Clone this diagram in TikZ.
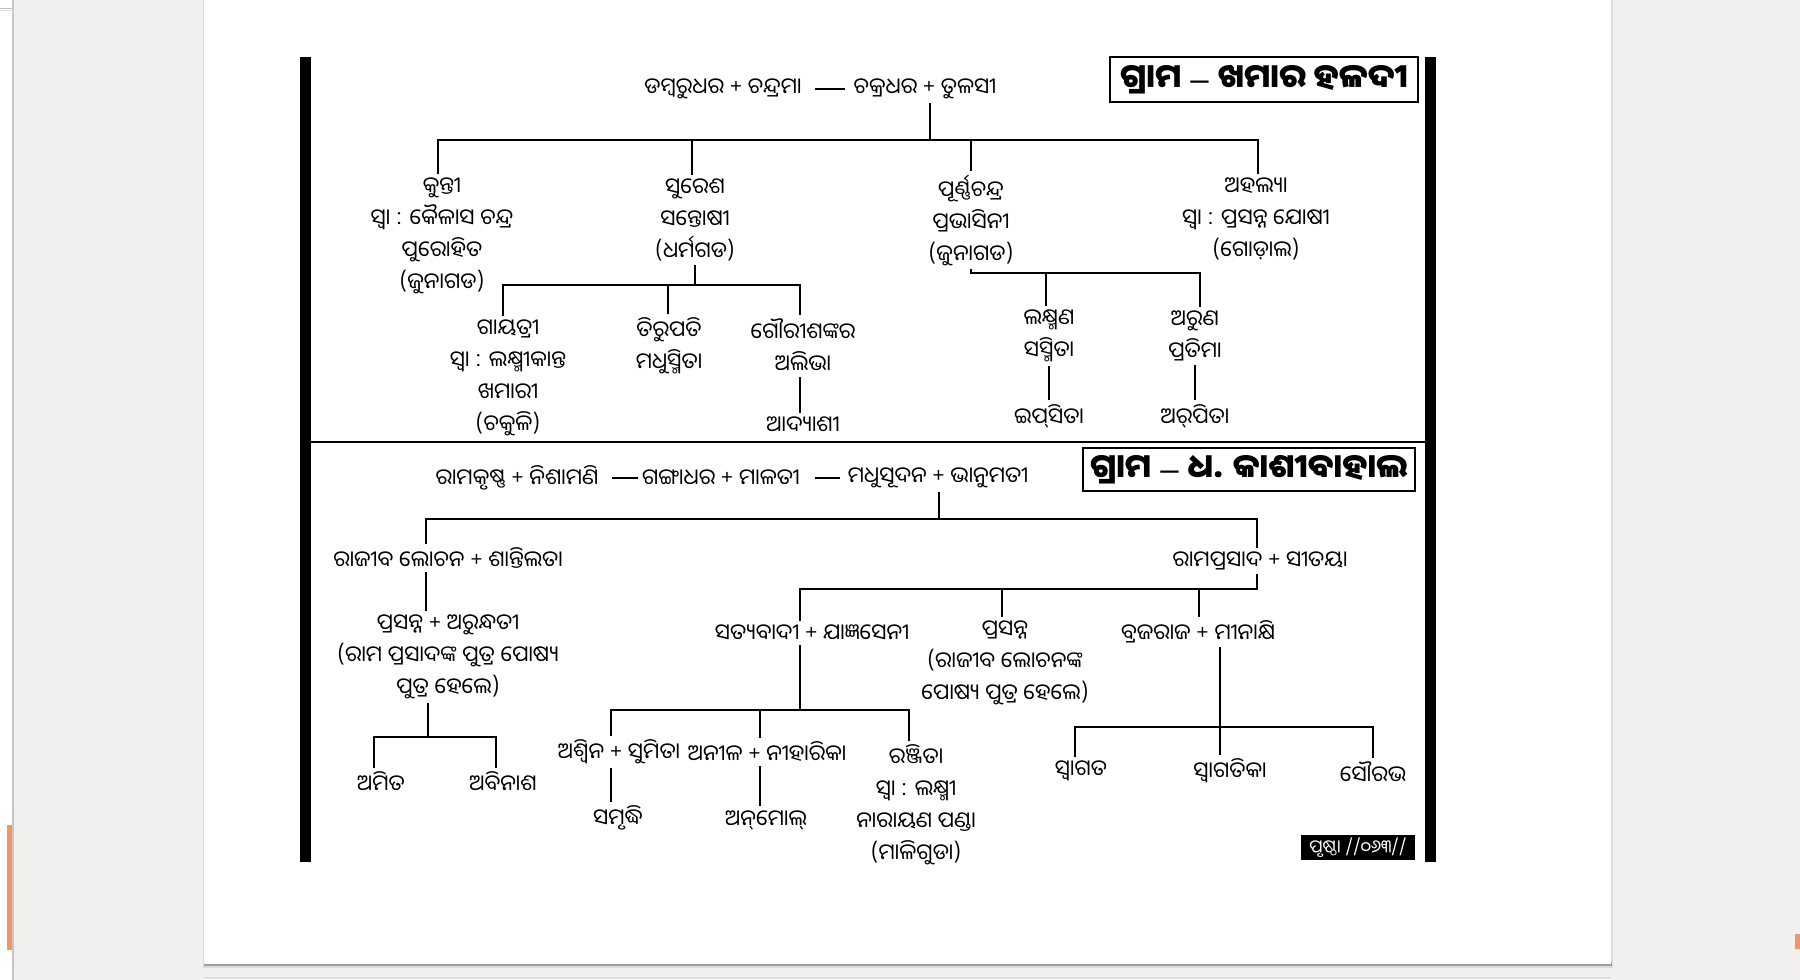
\documentclass[tikz,border=0pt]{standalone}
\usepackage{fontspec}
\newfontfamily\odia[Script=Oriya]{Noto Sans Oriya UI}
\newfontfamily\latn{Liberation Sans}
\definecolor{bg}{HTML}{F1F0EE}
\definecolor{orng}{HTML}{F4936A}
\begin{document}
\begin{tikzpicture}[x=1pt,y=-1pt,
  person/.style={font=\odia\fontsize{22}{32}\selectfont, align=center, inner sep=0pt, outer sep=4pt, yshift=-3pt},
  link/.style={line width=1.6pt, black},
  titlebox/.style={draw, line width=1.3pt, inner sep=0pt, font=\odia\bfseries\fontsize{33}{40}\selectfont},
  pagebox/.style={fill=black, text=white, inner sep=0pt, font=\odia\fontsize{18}{20}\selectfont}]
\useasboundingbox (0,0) rectangle (1800,980);
% ---- screen background
\fill[bg] (0,0) rectangle (1800,980);
\fill[white] (0,0) rectangle (12,980);
\fill[black!22] (12,0) rectangle (13.5,980);
\draw[black!25] (0,8.5) -- (13,8.5);
\draw[black!12] (0,10.5) -- (13,10.5);
\fill[orng] (7,825) rectangle (12,950);
\fill[orng] (1795,934) rectangle (1800,949);
% page
\fill[black!14] (203,0) rectangle (1612.5,968);
\fill[black!38] (204,962) rectangle (1612,966);
\fill[white] (204,0) rectangle (1611,964);
\fill[black!12] (204,977) rectangle (1611,980);
\fill[white] (204,978.5) rectangle (1611,980);
% frame
\fill[black] (300,57) rectangle (311,862);
\fill[black] (1425,57) rectangle (1436,862);
\draw[line width=2pt] (311,442) -- (1425,442);
% titles
\node[titlebox, minimum width=308pt, minimum height=45pt] (t1) at (1264,79.5) {ଗ୍ରାମ\hspace{9pt}{\latn\mdseries –}\hspace{9pt}ଖମାର ହଳଦୀ};
\node[titlebox, minimum width=332pt, minimum height=43pt] (t2) at (1249,469.5) {ଗ୍ରାମ\hspace{9pt}{\latn\mdseries –}\hspace{9pt}ଧ. କାଶୀବାହାଲ};
\node[pagebox, minimum width=114pt, minimum height=25pt] (pg) at (1358,847.5) {ପୃଷ୍ଠା //୦୬୩//};

% ================= TOP TREE
\node[person] (dc) at (723,86) {ଡମ୍ବରୁଧର + ଚନ୍ଦ୍ରମା};
\node[person] (ct) at (925,86) {ଚକ୍ରଧର + ତୁଳସୀ};
\draw[link] ([xshift=9pt]dc.east) -- ([xshift=-5pt]ct.west);
\coordinate (j1) at (930,140);
\draw[link] (j1 |- ct.south) -- (j1);

\node[person] (kunti) at (442,233) {କୁନ୍ତୀ\\ସ୍ୱା : କୈଳାସ ଚନ୍ଦ୍ର\\ପୁରୋହିତ\\(ଜୁନାଗଡ)};
\node[person] (suresh) at (695,217) {ସୁରେଶ\\ସନ୍ତୋଷୀ\\(ଧର୍ମଗଡ)};
\node[person] (purna) at (971,217) {ପୂର୍ଣ୍ଣଚନ୍ଦ୍ର\\ପ୍ରଭାସିନୀ\\(ଜୁନାଗଡ)};
\node[person] (ahalya) at (1256,216) {ଅହଲ୍ୟା\\ସ୍ୱା : ପ୍ରସନ୍ନ ଯୋଷୀ\\(ଗୋଡ଼ାଲ)};
\coordinate (k1) at (438,140);
\coordinate (k2) at (692,140);
\coordinate (k3) at (971,140);
\coordinate (k4) at (1258,140);
\draw[link] (k1 |- kunti.north) -- (k1) -- (k4) -- (k4 |- ahalya.north);
\draw[link] (k2) -- (k2 |- suresh.north);
\draw[link] (k3) -- (k3 |- purna.north);

% Suresh's children
\node[person] (gayatri) at (508,375) {ଗାୟତ୍ରୀ\\ସ୍ୱା : ଲକ୍ଷ୍ମୀକାନ୍ତ\\ଖମାରୀ\\(ଚକୁଳି)};
\node[person] (tirupati) at (669,343) {ତିରୁପତି\\ମଧୁସ୍ମିତା};
\node[person] (gauri) at (803,343) {ଗୌରୀଶଙ୍କର\\ଅଲିଭା};
\node[person] (adyashi) at (803,422) {ଆଦ୍ୟାଶୀ};
\coordinate (j2) at (695,285);
\coordinate (g1) at (503,285);
\coordinate (g2) at (668,285);
\coordinate (g3) at (800,285);
\draw[link] (j2 |- suresh.south) -- (j2);
\draw[link] (g1 |- gayatri.north) -- (g1) -- (g3) -- (g3 |- gauri.north);
\draw[link] (g2) -- (g2 |- tirupati.north);
\draw[link] (g3 |- gauri.south) -- (g3 |- adyashi.north);

% Purnachandra's children
\node[person] (laksh) at (1049,333) {ଲକ୍ଷ୍ମଣ\\ସସ୍ମିତା};
\node[person] (aruna) at (1195,333) {ଅରୁଣ\\ପ୍ରତିମା};
\node[person] (ipsita) at (1049,413) {ଇପ୍‌ସିତା};
\node[person] (arpita) at (1195,413) {ଅର୍‍ପିତା};
\coordinate (j3) at (971,273);
\coordinate (p1) at (1046,273);
\coordinate (p2) at (1200,273);
\draw[link] (j3 |- purna.south) -- (j3) -- (p2) -- (p2 |- aruna.north);
\draw[link] (p1) -- (p1 |- laksh.north);
\draw[link] (laksh.south) -- (ipsita.north);
\draw[link] (aruna.south) -- (arpita.north);

% ================= BOTTOM TREE
\node[person] (rn) at (517,475) {ରାମକୃଷ୍ଣ + ନିଶାମଣି};
\node[person] (gm) at (721,475) {ଗଙ୍ଗାଧର + ମାଳତୀ};
\node[person] (mb) at (938,475) {ମଧୁସୂଦନ + ଭାନୁମତୀ};
\draw[link] ([xshift=10pt]rn.east) -- (gm.west);
\draw[link] ([xshift=11pt]gm.east) -- ([xshift=-4pt]mb.west);
\coordinate (j4) at (939,519);
\draw[link] (j4 |- mb.south) -- (j4);

\node[person] (rajiv) at (448,555) {ରାଜୀବ ଲୋଚନ + ଶାନ୍ତିଲତା};
\node[person] (ramp) at (1260,558) {ରାମପ୍ରସାଦ + ସୀତୟା};
\coordinate (r1) at (426,519);
\coordinate (r2) at (1257,519);
\draw[link] (r1 |- rajiv.north) -- (r1) -- (r2) -- (r2 |- ramp.north);

% Rajiv's line
\node[person] (pr1) at (448,654) {ପ୍ରସନ୍ନ + ଅରୁନ୍ଧତୀ\\(ରାମ ପ୍ରସାଦଙ୍କ ପୁତ୍ର ପୋଷ୍ୟ\\ପୁତ୍ର ହେଲେ)};
\draw[link] (r1 |- rajiv.south) -- (r1 |- pr1.north);
\node[person] (amit) at (381,779) {ଅମିତ};
\node[person] (abin) at (503,779) {ଅବିନାଶ};
\coordinate (j5) at (428,737);
\coordinate (a1) at (374,737);
\coordinate (a2) at (496,737);
\draw[link] (j5 |- pr1.south) -- (j5);
\draw[link] (a1 |- amit.north) -- (a1) -- (a2) -- (a2 |- abin.north);

% Ramprasad's children
\node[person] (satya) at (812,630) {ସତ୍ୟବାଦୀ + ଯାଜ୍ଞସେନୀ};
\node[person] (pr2) at (1005,660) {ପ୍ରସନ୍ନ\\(ରାଜୀବ ଲୋଚନଙ୍କ\\ପୋଷ୍ୟ ପୁତ୍ର ହେଲେ)};
\node[person] (braja) at (1198,629) {ବ୍ରଜରାଜ + ମୀନାକ୍ଷି};
\coordinate (j6) at (1257,589);
\coordinate (s1) at (800,589);
\coordinate (s2) at (1002,589);
\coordinate (s3) at (1199,589);
\draw[link] (j6 |- ramp.south) -- (j6) -- (s1) -- (s1 |- satya.north);
\draw[link] (s2) -- (s2 |- pr2.north);
\draw[link] (s3) -- (s3 |- braja.north);

% Satyabadi's children
\node[person] (ashwin) at (619,749) {ଅଶ୍ୱିନ + ସୁମିତା};
\node[person] (anil) at (767,749) {ଅନୀଳ + ନୀହାରିକା};
\node[person] (ranjita) at (916,802) {ରଞ୍ଜିତା\\ସ୍ୱା : ଲକ୍ଷ୍ମୀ\\ନାରାୟଣ ପଣ୍ଡା\\(ମାଳିଗୁଡା)};
\node[person] (samr) at (618,815) {ସମୃଦ୍ଧି};
\node[person] (anmol) at (766,817) {ଅନ୍‌ମୋଲ୍};
\coordinate (j7) at (800,710);
\coordinate (c1) at (611,710);
\coordinate (c2) at (760,710);
\coordinate (c3) at (909,710);
\draw[link] (j7 |- satya.south) -- (j7);
\draw[link] (c1 |- ashwin.north) -- (c1) -- (c3) -- (c3 |- ranjita.north);
\draw[link] (c2) -- (c2 |- anil.north);
\draw[link] (c1 |- ashwin.south) -- (c1 |- samr.north);
\draw[link] (c2 |- anil.south) -- (c2 |- anmol.north);

% Brajaraj's children
\node[person] (swg) at (1081,768) {ସ୍ୱାଗତ};
\node[person] (swgk) at (1230,768) {ସ୍ୱାଗତିକା};
\node[person] (saur) at (1373,770) {ସୌରଭ};
\coordinate (j8) at (1220,727);
\coordinate (b1) at (1075,727);
\coordinate (b2) at (1373,727);
\draw[link] (j8 |- braja.south) -- (j8 |- swgk.north);
\draw[link] (b1 |- swg.north) -- (b1) -- (b2) -- (b2 |- saur.north);
\end{tikzpicture}
\end{document}
